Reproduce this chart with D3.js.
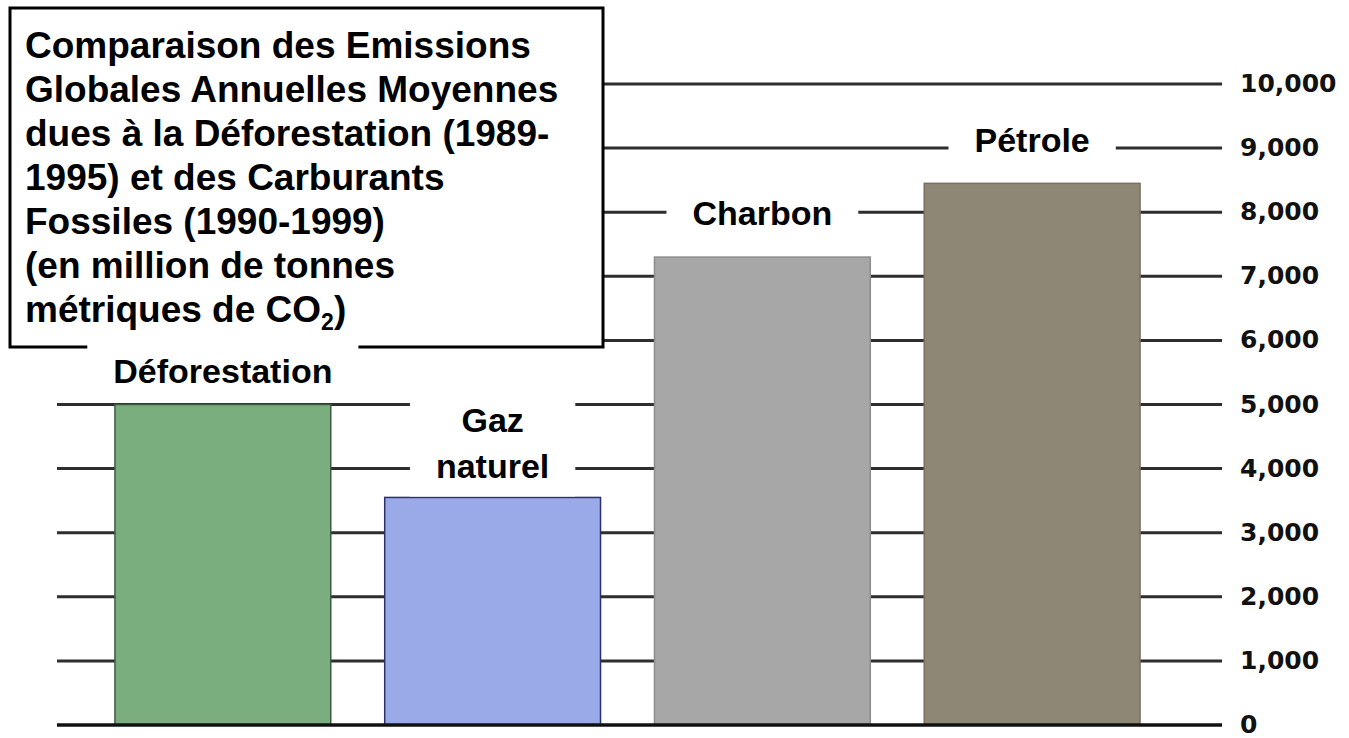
<!DOCTYPE html>
<html>
<head>
<meta charset="utf-8">
<script src="https://cdn.jsdelivr.net/npm/d3@7"></script>
<style>
  body { margin: 0; background: #fff; }
  text { font-family: "Liberation Sans", Arial, sans-serif; font-weight: bold; }
  .tick text { font-family: "DejaVu Sans", sans-serif; font-weight: bold; }
</style>
</head>
<body>
<div id="chart"></div>
<script>
var width = 1349,
    height = 738

// data
var categories = ['Déforestation', 'Gaz naturel', 'Charbon', 'Pétrole']
var values = [5000, 3550, 7300, 8450]
var labelLines = [['Déforestation'], ['Gaz', 'naturel'], ['Charbon'], ['Pétrole']]
// where each label box is centred, in axis units
var labelAnchor = [5520, 4330, 7990, 9120]
var colors = ['#7aae7f', '#9aa9e8', '#a7a7a7', '#8f8776']
var strokes = ['#3b5a3f', '#2c3166', '#8c8c8c', '#777060']
var tickValues = [0, 1000, 2000, 3000, 4000, 5000, 6000, 7000, 8000, 9000, 10000]
var titleLines = ['Comparaison des Emissions',
                  'Globales Annuelles Moyennes',
                  'dues à la Déforestation (1989-',
                  '1995) et des Carburants',
                  'Fossiles (1990-1999)',
                  '(en million de tonnes']

var svg = d3.select('#chart')
  .append('svg')
  .attr('width', width)
  .attr('height', height)

svg.append('rect').attr('width', width).attr('height', height).attr('fill', '#fff')

var y = d3.scaleLinear().domain([0, 10000]).range([725, 84])
var x = d3.scaleBand().domain(categories).range([61, 1194])
  .paddingInner(0.2).paddingOuter(0.2)

var gridLeft = 57, gridRight = 1222

// gridlines (behind bars)
svg.append('g')
  .selectAll('line')
  .data(tickValues.filter(d => d > 0))
  .enter().append('line')
  .attr('x1', gridLeft)
  .attr('x2', gridRight)
  .attr('y1', d => y(d))
  .attr('y2', d => y(d))
  .attr('stroke', '#2e2e2e')
  .attr('stroke-width', 3)

// bars
svg.append('g')
  .selectAll('rect')
  .data(categories)
  .enter().append('rect')
  .attr('x', d => x(d))
  .attr('y', (d, i) => y(values[i]))
  .attr('width', x.bandwidth())
  .attr('height', (d, i) => y(0) - y(values[i]))
  .attr('fill', (d, i) => colors[i])
  .attr('stroke', (d, i) => strokes[i])
  .attr('stroke-width', 1.5)

// zero line
svg.append('line')
  .attr('x1', gridLeft).attr('x2', gridRight)
  .attr('y1', y(0)).attr('y2', y(0))
  .attr('stroke', '#111')
  .attr('stroke-width', 3.5)

// right axis labels
var axis = d3.axisRight(y)
  .tickValues(tickValues)
  .tickSize(0)
  .tickPadding(18)
  .tickFormat(d3.format(','))

var gAxis = svg.append('g')
  .attr('transform', 'translate(' + gridRight + ',0)')
  .call(axis)
gAxis.select('.domain').remove()
gAxis.selectAll('.tick text')
  .attr('fill', '#111')
  .attr('dy', '0.3em')
  .style('font-size', '25px')

// title box
svg.append('rect')
  .attr('x', 10).attr('y', 8)
  .attr('width', 593).attr('height', 339)
  .attr('fill', '#fff')
  .attr('stroke', '#000')
  .attr('stroke-width', 3)

var title = svg.append('text')
  .attr('x', 25)
  .attr('y', 58)
  .style('font-size', '37px')
  .attr('fill', '#000')

titleLines.forEach(function (t, i) {
  title.append('tspan')
    .attr('x', 25)
    .attr('dy', i === 0 ? 0 : 44)
    .text(t)
})
title.append('tspan').attr('x', 25).attr('dy', 44).text('métriques de CO')
title.append('tspan').attr('dy', 8).style('font-size', '23px').text('2')
title.append('tspan').attr('dy', -8).text(')')

// category label boxes
var lineH = 46, pad = 26, fs = 34
var labels = svg.append('g')
  .selectAll('g')
  .data(categories)
  .enter().append('g')

labels.each(function (d, i) {
  var g = d3.select(this)
  var cx = x(d) + x.bandwidth() / 2
  var t = g.append('text')
    .attr('text-anchor', 'middle')
    .style('font-size', fs + 'px')
    .attr('fill', '#000')
  labelLines[i].forEach(function (l) {
    t.append('tspan').attr('x', cx).text(l)
  })
  var n = labelLines[i].length
  var boxH = 60 + (n - 1) * lineH
  var top = Math.min(y(labelAnchor[i]) - boxH / 2, y(values[i]) - 1 - boxH)
  var w = 0
  t.selectAll('tspan').each(function () { w = Math.max(w, this.getComputedTextLength()) })
  g.insert('rect', 'text')
    .attr('x', cx - w / 2 - pad)
    .attr('y', top)
    .attr('width', w + pad * 2)
    .attr('height', boxH)
    .attr('fill', '#fff')
  t.selectAll('tspan')
    .attr('y', (l, j) => top + 42 + j * lineH)
})
</script>
</body>
</html>
